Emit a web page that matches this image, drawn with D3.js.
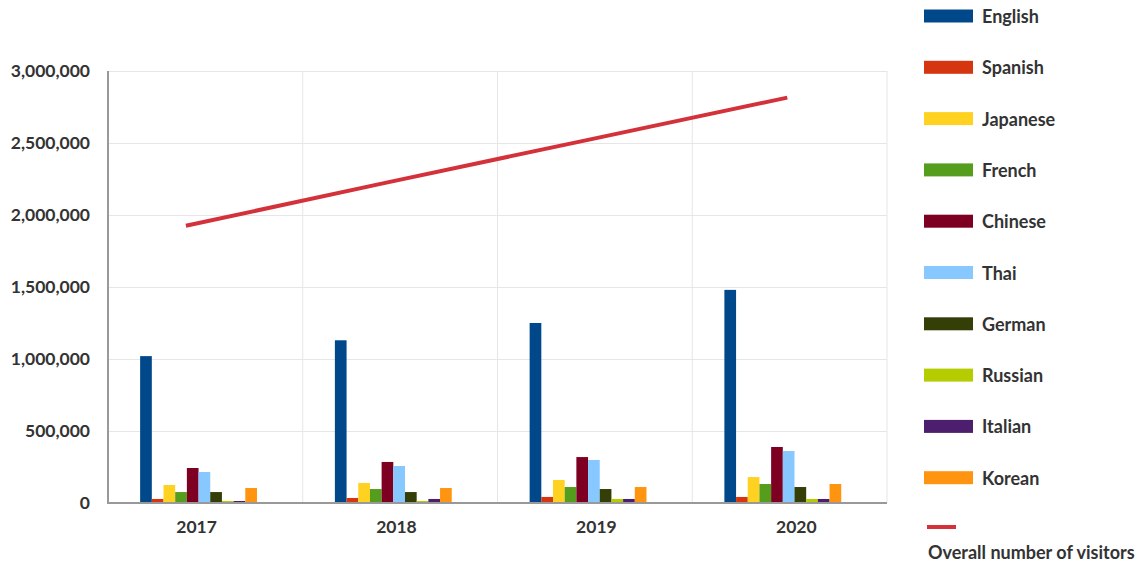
<!DOCTYPE html>
<html>
<head>
<meta charset="utf-8">
<script src="https://cdnjs.cloudflare.com/ajax/libs/d3/7.8.5/d3.min.js"></script>
<style>
  body { margin: 0; background: #fff; }
  text { font-family: Lato, "Open Sans", sans-serif; font-weight: 700; fill: #333; }
</style>
</head>
<body>
<div id="chart"></div>
<script>
// Data
var years = ["2017", "2018", "2019", "2020"];
var languages = ["English", "Spanish", "Japanese", "French", "Chinese", "Thai", "German", "Russian", "Italian", "Korean"];
var colors = ["#00488a", "#d5360f", "#ffd221", "#559e1d", "#7d0022", "#86c8ff", "#333f06", "#b5cc00", "#4d1e6e", "#ff9411"];

var english  = [1020000, 1130000, 1250000, 1480000];
var spanish  = [28000, 35000, 42000, 42000];
var japanese = [125000, 139000, 160000, 180000];
var french   = [76000, 97000, 111000, 132000];
var chinese  = [243000, 285000, 319000, 389000];
var thai     = [215000, 257000, 299000, 361000];
var german   = [76000, 76000, 97000, 111000];
var russian  = [14000, 14000, 28000, 28000];
var italian  = [14000, 28000, 28000, 28000];
var korean   = [104000, 104000, 111000, 132000];

var overall = [1925000, 2225000, 2520000, 2815000];
var yTicks = [0, 500000, 1000000, 1500000, 2000000, 2500000, 3000000];

var series = [english, spanish, japanese, french, chinese, thai, german, russian, italian, korean];

// SVG area
var svgWidth = 1138;
var svgHeight = 564;
var chartMargin = { top: 71, right: 251, bottom: 61, left: 108 };
var chartWidth = svgWidth - chartMargin.left - chartMargin.right;
var chartHeight = svgHeight - chartMargin.top - chartMargin.bottom;

var svg = d3.select("#chart")
  .append("svg")
  .attr("width", svgWidth)
  .attr("height", svgHeight);

var chartGroup = svg.append("g")
  .attr("transform", `translate(${chartMargin.left}, ${chartMargin.top})`);

// scales
var x0 = d3.scaleBand().domain(years).range([0, chartWidth]).padding(0);
var bw = x0.bandwidth();
var x1 = d3.scaleBand().domain(languages).range([0.165 * bw, 0.765 * bw]).padding(0);
var xLine = d3.scalePoint().domain(years).range([0.1 * chartWidth, 0.872 * chartWidth]);
var xLabel = d3.scalePoint().domain(years).range([0.113 * chartWidth, 0.883 * chartWidth]);
var yScale = d3.scaleLinear().domain([0, 3000000]).range([chartHeight, 0]);

// grid lines
chartGroup.append("g")
  .selectAll("line")
  .data(yTicks.slice(1))
  .enter()
  .append("line")
  .attr("x1", 0)
  .attr("x2", chartWidth)
  .attr("y1", d => yScale(d) + 0.5)
  .attr("y2", d => yScale(d) + 0.5)
  .attr("stroke", "#e6e6e6");

chartGroup.append("g")
  .selectAll("line")
  .data(years)
  .enter()
  .append("line")
  .attr("x1", d => x0(d) + bw)
  .attr("x2", d => x0(d) + bw)
  .attr("y1", 0)
  .attr("y2", chartHeight)
  .attr("stroke", "#e6e6e6");

// bars
var rows = years.map((y, i) => ({ year: y, values: languages.map((l, j) => ({ lang: l, value: series[j][i], color: colors[j] })) }));

var groups = chartGroup.selectAll(".year")
  .data(rows)
  .enter()
  .append("g")
  .attr("transform", d => `translate(${x0(d.year)}, 0)`);

groups.selectAll("rect")
  .data(d => d.values)
  .enter()
  .append("rect")
  .attr("x", d => x1(d.lang))
  .attr("width", x1.bandwidth())
  .attr("y", d => yScale(d.value))
  .attr("height", d => chartHeight - yScale(d.value))
  .attr("fill", d => d.color);

// axes
var leftAxis = d3.axisLeft(yScale).tickValues(yTicks).tickSize(0).tickPadding(18).tickFormat(d3.format(","));
var bottomAxis = d3.axisBottom(xLabel).tickSize(0).tickPadding(18);

var yAxisG = chartGroup.append("g").call(leftAxis);
yAxisG.select(".domain").remove();
yAxisG.selectAll("text").style("font-size", "17.5px").style("font-family", "Lato").style("font-weight", 700).attr("fill", "#333");

var xAxisG = chartGroup.append("g")
  .attr("transform", `translate(0, ${chartHeight})`)
  .call(bottomAxis);
xAxisG.select(".domain").remove();
xAxisG.selectAll("text").style("font-size", "17.5px").style("font-family", "Lato").style("font-weight", 700).attr("fill", "#333");

chartGroup.append("line")
  .attr("x1", 0).attr("x2", 0)
  .attr("y1", 0).attr("y2", chartHeight + 1)
  .attr("stroke", "#999").attr("stroke-width", 2);
chartGroup.append("line")
  .attr("x1", 0).attr("x2", chartWidth)
  .attr("y1", chartHeight).attr("y2", chartHeight)
  .attr("stroke", "#999").attr("stroke-width", 2);

// overall visitors line
var line = d3.line()
  .x((d, i) => xLine(years[i]))
  .y(d => yScale(d));

chartGroup.append("path")
  .datum(overall)
  .attr("d", line)
  .attr("fill", "none")
  .attr("stroke", "#d4323a")
  .attr("stroke-width", 4);

// legend
var legend = svg.append("g").attr("transform", "translate(924, 0)");

var items = legend.selectAll("g")
  .data(languages)
  .enter()
  .append("g")
  .attr("transform", (d, i) => `translate(0, ${16 + i * 51.3})`);

items.append("rect")
  .attr("x", 0)
  .attr("y", -6.5)
  .attr("width", 49)
  .attr("height", 13)
  .attr("fill", (d, i) => colors[i]);

items.append("text")
  .attr("x", 58)
  .attr("y", 7)
  .style("font-size", "18px")
  .text(d => d);

legend.append("line")
  .attr("x1", 3).attr("x2", 32)
  .attr("y1", 527).attr("y2", 527)
  .attr("stroke", "#d4323a")
  .attr("stroke-width", 4);

legend.append("text")
  .attr("x", 4)
  .attr("y", 559)
  .style("font-size", "18px")
  .text("Overall number of visitors");
</script>
</body>
</html>
